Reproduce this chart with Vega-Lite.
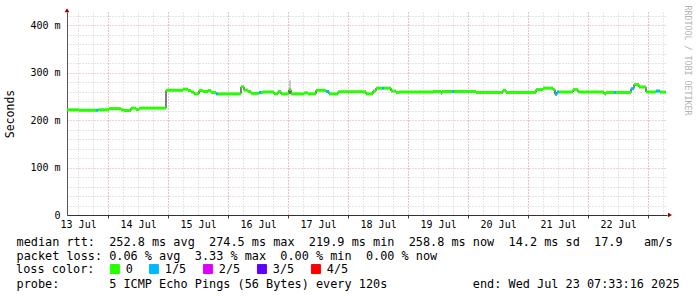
{
  "$schema": "https://vega.github.io/schema/vega-lite/v6.json",
  "width": 600,
  "height": 203,
  "autosize": {"type": "none"},
  "padding": {"left": 67, "top": 12, "right": 30, "bottom": 82},
  "background": "white",
  "config": {
    "view": {"stroke": null},
    "axis": {"labelFont": "DejaVu Sans Mono", "titleFont": "DejaVu Sans Mono", "titleFontWeight": "normal", "labelColor": "#000", "titleColor": "#000"},
    "legend": {"labelFont": "DejaVu Sans Mono", "titleFont": "DejaVu Sans Mono"}
  },
  "datasets": {
    "median": [
      {"start": "2025-07-13T07:33:00Z", "end": "2025-07-13T12:21:00Z", "rtt": 221.5, "loss": "0"},
      {"start": "2025-07-13T12:21:00Z", "end": "2025-07-13T19:09:00Z", "rtt": 220.5, "loss": "0"},
      {"start": "2025-07-13T19:09:00Z", "end": "2025-07-13T19:57:00Z", "rtt": 220.5, "loss": "1/5"},
      {"start": "2025-07-13T19:57:00Z", "end": "2025-07-14T00:21:00Z", "rtt": 221.5, "loss": "0"},
      {"start": "2025-07-14T00:21:00Z", "end": "2025-07-14T05:09:00Z", "rtt": 224, "loss": "0"},
      {"start": "2025-07-14T05:09:00Z", "end": "2025-07-14T06:21:00Z", "rtt": 221.5, "loss": "0"},
      {"start": "2025-07-14T06:21:00Z", "end": "2025-07-14T09:09:00Z", "rtt": 219.9, "loss": "0"},
      {"start": "2025-07-14T09:09:00Z", "end": "2025-07-14T11:09:00Z", "rtt": 225, "loss": "0"},
      {"start": "2025-07-14T11:09:00Z", "end": "2025-07-14T12:21:00Z", "rtt": 222, "loss": "0"},
      {"start": "2025-07-14T12:21:00Z", "end": "2025-07-14T23:09:00Z", "rtt": 225, "loss": "0"},
      {"start": "2025-07-14T23:09:00Z", "end": "2025-07-15T05:57:00Z", "rtt": 262.5, "loss": "0"},
      {"start": "2025-07-15T05:57:00Z", "end": "2025-07-15T07:57:00Z", "rtt": 265, "loss": "0"},
      {"start": "2025-07-15T07:57:00Z", "end": "2025-07-15T09:09:00Z", "rtt": 262, "loss": "0"},
      {"start": "2025-07-15T09:09:00Z", "end": "2025-07-15T10:21:00Z", "rtt": 259, "loss": "0"},
      {"start": "2025-07-15T10:21:00Z", "end": "2025-07-15T12:21:00Z", "rtt": 255, "loss": "0"},
      {"start": "2025-07-15T12:21:00Z", "end": "2025-07-15T13:57:00Z", "rtt": 262, "loss": "0"},
      {"start": "2025-07-15T13:57:00Z", "end": "2025-07-15T15:57:00Z", "rtt": 260, "loss": "0"},
      {"start": "2025-07-15T15:57:00Z", "end": "2025-07-15T17:09:00Z", "rtt": 262, "loss": "0"},
      {"start": "2025-07-15T17:09:00Z", "end": "2025-07-15T19:09:00Z", "rtt": 258, "loss": "0"},
      {"start": "2025-07-15T19:09:00Z", "end": "2025-07-15T19:57:00Z", "rtt": 255, "loss": "1/5"},
      {"start": "2025-07-15T19:57:00Z", "end": "2025-07-16T05:09:00Z", "rtt": 255, "loss": "0"},
      {"start": "2025-07-16T05:09:00Z", "end": "2025-07-16T06:21:00Z", "rtt": 270, "loss": "0"},
      {"start": "2025-07-16T06:21:00Z", "end": "2025-07-16T07:57:00Z", "rtt": 263, "loss": "0"},
      {"start": "2025-07-16T07:57:00Z", "end": "2025-07-16T09:09:00Z", "rtt": 260, "loss": "0"},
      {"start": "2025-07-16T09:09:00Z", "end": "2025-07-16T12:21:00Z", "rtt": 256, "loss": "0"},
      {"start": "2025-07-16T12:21:00Z", "end": "2025-07-16T13:09:00Z", "rtt": 258, "loss": "1/5"},
      {"start": "2025-07-16T13:09:00Z", "end": "2025-07-16T13:57:00Z", "rtt": 258, "loss": "0"},
      {"start": "2025-07-16T13:57:00Z", "end": "2025-07-16T18:21:00Z", "rtt": 259, "loss": "0"},
      {"start": "2025-07-16T18:21:00Z", "end": "2025-07-16T19:57:00Z", "rtt": 255, "loss": "0"},
      {"start": "2025-07-16T19:57:00Z", "end": "2025-07-16T21:09:00Z", "rtt": 260, "loss": "0"},
      {"start": "2025-07-16T21:09:00Z", "end": "2025-07-17T00:21:00Z", "rtt": 255, "loss": "0"},
      {"start": "2025-07-17T00:21:00Z", "end": "2025-07-17T01:09:00Z", "rtt": 264, "loss": "0"},
      {"start": "2025-07-17T01:09:00Z", "end": "2025-07-17T06:21:00Z", "rtt": 255, "loss": "0"},
      {"start": "2025-07-17T06:21:00Z", "end": "2025-07-17T07:57:00Z", "rtt": 257, "loss": "0"},
      {"start": "2025-07-17T07:57:00Z", "end": "2025-07-17T11:09:00Z", "rtt": 255, "loss": "0"},
      {"start": "2025-07-17T11:09:00Z", "end": "2025-07-17T15:09:00Z", "rtt": 262.5, "loss": "0"},
      {"start": "2025-07-17T15:09:00Z", "end": "2025-07-17T16:21:00Z", "rtt": 260, "loss": "1/5"},
      {"start": "2025-07-17T16:21:00Z", "end": "2025-07-17T19:57:00Z", "rtt": 255, "loss": "0"},
      {"start": "2025-07-17T19:57:00Z", "end": "2025-07-18T07:09:00Z", "rtt": 259.5, "loss": "0"},
      {"start": "2025-07-18T07:09:00Z", "end": "2025-07-18T09:57:00Z", "rtt": 255, "loss": "0"},
      {"start": "2025-07-18T09:57:00Z", "end": "2025-07-18T11:09:00Z", "rtt": 261, "loss": "0"},
      {"start": "2025-07-18T11:09:00Z", "end": "2025-07-18T13:33:00Z", "rtt": 267, "loss": "0"},
      {"start": "2025-07-18T13:33:00Z", "end": "2025-07-18T14:21:00Z", "rtt": 267, "loss": "1/5"},
      {"start": "2025-07-18T14:21:00Z", "end": "2025-07-18T17:09:00Z", "rtt": 267, "loss": "0"},
      {"start": "2025-07-18T17:09:00Z", "end": "2025-07-18T19:09:00Z", "rtt": 261, "loss": "0"},
      {"start": "2025-07-18T19:09:00Z", "end": "2025-07-18T20:21:00Z", "rtt": 258, "loss": "0"},
      {"start": "2025-07-18T20:21:00Z", "end": "2025-07-19T09:57:00Z", "rtt": 259, "loss": "0"},
      {"start": "2025-07-19T09:57:00Z", "end": "2025-07-19T13:09:00Z", "rtt": 260, "loss": "0"},
      {"start": "2025-07-19T13:09:00Z", "end": "2025-07-19T13:33:00Z", "rtt": 256, "loss": "0"},
      {"start": "2025-07-19T13:33:00Z", "end": "2025-07-19T17:33:00Z", "rtt": 260, "loss": "0"},
      {"start": "2025-07-19T17:33:00Z", "end": "2025-07-19T18:21:00Z", "rtt": 260, "loss": "1/5"},
      {"start": "2025-07-19T18:21:00Z", "end": "2025-07-20T03:09:00Z", "rtt": 260, "loss": "0"},
      {"start": "2025-07-20T03:09:00Z", "end": "2025-07-20T13:57:00Z", "rtt": 258, "loss": "0"},
      {"start": "2025-07-20T13:57:00Z", "end": "2025-07-20T15:09:00Z", "rtt": 262.5, "loss": "0"},
      {"start": "2025-07-20T15:09:00Z", "end": "2025-07-21T03:09:00Z", "rtt": 258, "loss": "0"},
      {"start": "2025-07-21T03:09:00Z", "end": "2025-07-21T05:57:00Z", "rtt": 264, "loss": "0"},
      {"start": "2025-07-21T05:57:00Z", "end": "2025-07-21T09:57:00Z", "rtt": 267, "loss": "0"},
      {"start": "2025-07-21T09:57:00Z", "end": "2025-07-21T10:45:00Z", "rtt": 264, "loss": "0"},
      {"start": "2025-07-21T10:45:00Z", "end": "2025-07-21T11:33:00Z", "rtt": 254, "loss": "1/5"},
      {"start": "2025-07-21T11:33:00Z", "end": "2025-07-21T12:21:00Z", "rtt": 259, "loss": "1/5"},
      {"start": "2025-07-21T12:21:00Z", "end": "2025-07-21T17:57:00Z", "rtt": 259, "loss": "0"},
      {"start": "2025-07-21T17:57:00Z", "end": "2025-07-21T19:57:00Z", "rtt": 264, "loss": "0"},
      {"start": "2025-07-21T19:57:00Z", "end": "2025-07-22T06:21:00Z", "rtt": 259, "loss": "0"},
      {"start": "2025-07-22T06:21:00Z", "end": "2025-07-22T07:09:00Z", "rtt": 255, "loss": "0"},
      {"start": "2025-07-22T07:09:00Z", "end": "2025-07-22T10:21:00Z", "rtt": 258, "loss": "0"},
      {"start": "2025-07-22T10:21:00Z", "end": "2025-07-22T11:09:00Z", "rtt": 258, "loss": "1/5"},
      {"start": "2025-07-22T11:09:00Z", "end": "2025-07-22T17:09:00Z", "rtt": 258, "loss": "0"},
      {"start": "2025-07-22T17:09:00Z", "end": "2025-07-22T18:21:00Z", "rtt": 266, "loss": "1/5"},
      {"start": "2025-07-22T18:21:00Z", "end": "2025-07-22T20:21:00Z", "rtt": 274.5, "loss": "0"},
      {"start": "2025-07-22T20:21:00Z", "end": "2025-07-22T23:09:00Z", "rtt": 269.5, "loss": "0"},
      {"start": "2025-07-22T23:09:00Z", "end": "2025-07-23T03:09:00Z", "rtt": 259, "loss": "0"},
      {"start": "2025-07-23T03:09:00Z", "end": "2025-07-23T04:45:00Z", "rtt": 261, "loss": "1/5"},
      {"start": "2025-07-23T04:45:00Z", "end": "2025-07-23T07:09:00Z", "rtt": 258.8, "loss": "0"}
    ],
    "smoke": [
      {"t": "2025-07-17T00:45:00Z", "lo": 255, "hi": 284}
    ]
  },
  "layer": [
    {
      "data": {"name": "smoke"},
      "mark": {"type": "rule", "color": "#9a9a9a", "strokeWidth": 1},
      "encoding": {
        "x": {
          "field": "t", "type": "temporal",
          "scale": {"type": "utc", "domain": [{"year": 2025, "month": 7, "date": 13, "hours": 7, "minutes": 33, "seconds": 16, "utc": true}, {"year": 2025, "month": 7, "date": 23, "hours": 7, "minutes": 33, "seconds": 16, "utc": true}]},
          "axis": {
            "orient": "bottom", "tickCount": 40,
            "grid": true, "gridColor": "#cccccc", "gridDash": [1, 2], "gridWidth": 1,
            "labels": false, "ticks": false, "domain": false,
            "title": "probe:\u00a0\u00a0\u00a0\u00a0\u00a0\u00a0\u00a05\u00a0ICMP\u00a0Echo\u00a0Pings\u00a0(56\u00a0Bytes)\u00a0every\u00a0120s\u00a0\u00a0\u00a0\u00a0\u00a0\u00a0\u00a0\u00a0\u00a0\u00a0\u00a0\u00a0end:\u00a0Wed\u00a0Jul\u00a023\u00a007:33:16\u00a02025",
            "titleFontSize": 11.85, "titleX": -51, "titleY": 72, "titleAlign": "left", "titleBaseline": "alphabetic", "titleAnchor": "start"
          }
        },
        "y": {
          "field": "lo", "type": "quantitative",
          "scale": {"domain": [0, 427.4], "nice": false},
          "axis": {
            "orient": "left",
            "values": [20, 40, 60, 80, 120, 140, 160, 180, 220, 240, 260, 280, 320, 340, 360, 380, 420],
            "grid": true, "gridColor": "#cccccc", "gridDash": [1, 2], "gridWidth": 1,
            "labels": false, "ticks": false, "domain": false, "title": null
          }
        },
        "y2": {"field": "hi"}
      }
    },
    {
      "data": {"name": "median"},
      "mark": {"type": "line", "interpolate": "step-after", "color": "#000000", "strokeWidth": 1},
      "encoding": {
        "x": {
          "field": "start", "type": "temporal",
          "axis": {
            "orient": "bottom", "tickCount": 10,
            "grid": true, "gridColor": "#e4a4a4", "gridDash": [1, 2], "gridWidth": 1,
            "labels": false, "ticks": true, "tickSize": 3, "tickColor": "#444444",
            "domain": true, "domainColor": "#333333", "title": null
          }
        },
        "y": {
          "field": "rtt", "type": "quantitative",
          "axis": {
            "orient": "left", "values": [0, 100, 200, 300, 400],
            "labelExpr": "datum.value == 0 ? '0' : datum.value + ' m'",
            "grid": true, "gridColor": "#e4a4a4", "gridDash": [1, 2], "gridWidth": 1,
            "domain": true, "domainColor": "#555555", "ticks": false,
            "labelPadding": 7, "labelFontSize": 10,
            "title": "Seconds", "titleFontSize": 11.5, "titlePadding": 14
          }
        }
      }
    },
    {
      "data": {"name": "median"},
      "mark": {"type": "rule", "strokeWidth": 3, "strokeCap": "butt"},
      "encoding": {
        "x": {
          "field": "start", "type": "temporal",
          "axis": {
            "orient": "bottom",
            "values": [
              {"year": 2025, "month": 7, "date": 13, "hours": 12, "utc": true},
              {"year": 2025, "month": 7, "date": 14, "hours": 12, "utc": true},
              {"year": 2025, "month": 7, "date": 15, "hours": 12, "utc": true},
              {"year": 2025, "month": 7, "date": 16, "hours": 12, "utc": true},
              {"year": 2025, "month": 7, "date": 17, "hours": 12, "utc": true},
              {"year": 2025, "month": 7, "date": 18, "hours": 12, "utc": true},
              {"year": 2025, "month": 7, "date": 19, "hours": 12, "utc": true},
              {"year": 2025, "month": 7, "date": 20, "hours": 12, "utc": true},
              {"year": 2025, "month": 7, "date": 21, "hours": 12, "utc": true},
              {"year": 2025, "month": 7, "date": 22, "hours": 12, "utc": true}
            ],
            "labelExpr": "utcFormat(datum.value, '%d Jul')",
            "grid": false, "ticks": false, "domain": false,
            "labelPadding": 4, "labelFontSize": 10, "labelFlush": false, "labelOverlap": false,
            "title": [
              "median\u00a0rtt:\u00a0\u00a0252.8\u00a0ms\u00a0avg\u00a0\u00a0274.5\u00a0ms\u00a0max\u00a0\u00a0219.9\u00a0ms\u00a0min\u00a0\u00a0258.8\u00a0ms\u00a0now\u00a0\u00a014.2\u00a0ms\u00a0sd\u00a0\u00a017.9\u00a0\u00a0\u00a0am/s",
              "packet\u00a0loss:\u00a00.06\u00a0%\u00a0avg\u00a0\u00a03.33\u00a0%\u00a0max\u00a0\u00a00.00\u00a0%\u00a0min\u00a0\u00a00.00\u00a0%\u00a0now"
            ],
            "titleFontSize": 11.85, "titleLineHeight": 14, "titleX": -51, "titleY": 21, "titleAlign": "left", "titleBaseline": "top", "titleAnchor": "start"
          }
        },
        "x2": {"field": "end"},
        "y": {
          "field": "rtt", "type": "quantitative",
          "axis": {
            "orient": "right", "labels": false, "ticks": false, "domain": false, "grid": false,
            "title": "RRDTOOL / TOBI OETIKER", "titleAngle": 90, "titleColor": "#b4b4b4",
            "titleFontSize": 8.3, "titleX": 19, "titleY": -7, "titleAlign": "left", "titleBaseline": "middle"
          }
        },
        "color": {
          "field": "loss", "type": "nominal",
          "scale": {"domain": ["0", "1/5", "2/5", "3/5", "4/5"], "range": ["#26ff00", "#00b8ff", "#dd00ff", "#5e00ff", "#ff0000"]},
          "legend": {
            "orient": "none", "legendX": -51, "legendY": 251, "direction": "horizontal",
            "title": "loss color:", "titleOrient": "left", "titlePadding": 14, "titleFontSize": 11.85, "titleFontWeight": "normal", "titleColor": "#000", "titleBaseline": "middle",
            "symbolType": "square", "symbolSize": 81, "symbolStrokeWidth": 1,
            "labelFontSize": 11.85, "labelColor": "#000", "labelOffset": 5, "columnPadding": 14,
            "encode": {"symbols": {"update": {"fill": {"scale": "color", "field": "value"}, "fillOpacity": {"value": 1}, "stroke": {"value": "#000000"}}}}
          }
        }
      }
    },
    {
      "data": {"name": "smoke"},
      "mark": {"type": "point", "shape": "triangle-up", "filled": true, "color": "#8b0000", "size": 22, "opacity": 1},
      "encoding": {
        "x": {"datum": 1752391996000, "type": "temporal", "axis": null},
        "y": {"datum": 431, "type": "quantitative", "axis": null}
      }
    },
    {
      "data": {"name": "smoke"},
      "mark": {"type": "point", "shape": "triangle-right", "filled": true, "color": "#8b0000", "size": 22, "opacity": 1},
      "encoding": {
        "x": {"datum": 1753260300000, "type": "temporal", "axis": null},
        "y": {"datum": 0, "type": "quantitative", "axis": null}
      }
    }
  ],
  "resolve": {"axis": {"x": "independent", "y": "independent"}}
}
